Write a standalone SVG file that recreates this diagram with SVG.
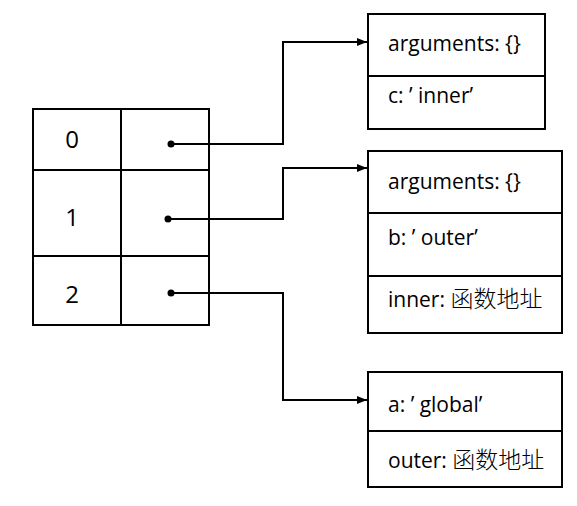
<svg xmlns="http://www.w3.org/2000/svg" width="577" height="506" viewBox="0 0 577 506">
<style>
.b{fill:#fff;stroke:#000;stroke-width:2}
.l{stroke:#000;stroke-width:2;fill:none}
.t{font-family:"Open Sans","Noto Sans CJK SC",sans-serif;font-size:21px;fill:#000}
.cjk{font-family:"Noto Sans CJK SC",sans-serif;font-size:23px;font-weight:300}
.n{font-family:"Open Sans",sans-serif;font-size:24px;fill:#000;text-anchor:middle}
.c{stroke:#000;stroke-width:2;fill:none}
</style>
<defs>
<marker id="ah" viewBox="0 0 10 10" refX="10" refY="5" markerWidth="10" markerHeight="10" markerUnits="userSpaceOnUse" orient="auto">
<path d="M0,1 L10,5 L0,9 z" fill="#000"/>
</marker>
</defs>
<rect width="577" height="506" fill="#fff"/>
<g id="stack">
<rect class="b" x="33" y="109" width="176" height="216"/>
<line class="l" x1="121" y1="109" x2="121" y2="325"/>
<line class="l" x1="33" y1="170" x2="209" y2="170"/>
<line class="l" x1="33" y1="256" x2="209" y2="256"/>
<text class="n" x="72" y="148">0</text>
<text class="n" x="72" y="226">1</text>
<text class="n" x="72" y="303">2</text>
</g>
<g id="scope-inner">
<rect class="b" x="368" y="14" width="177" height="115"/>
<line class="l" x1="368" y1="76" x2="545" y2="76"/>
<text class="t" x="388" y="51">arguments: {}</text>
<text class="t" x="388" y="103">c: ’ inner’</text>
</g>
<g id="scope-outer">
<rect class="b" x="368" y="151" width="194" height="182"/>
<line class="l" x1="368" y1="213" x2="562" y2="213"/>
<line class="l" x1="368" y1="276" x2="562" y2="276"/>
<text class="t" x="388" y="189">arguments: {}</text>
<text class="t" x="388" y="245">b: ’ outer’</text>
<text class="t" x="388" y="307">inner: <tspan class="cjk">函数地址</tspan></text>
</g>
<g id="scope-global">
<rect class="b" x="368" y="372" width="194" height="115"/>
<line class="l" x1="368" y1="431" x2="562" y2="431"/>
<text class="t" x="388" y="412">a: ’ global’</text>
<text class="t" x="388" y="468">outer: <tspan class="cjk">函数地址</tspan></text>
</g>
<g id="connectors">
<circle cx="171" cy="144" r="3.5"/>
<circle cx="168" cy="219" r="3.5"/>
<circle cx="171" cy="293" r="3.5"/>
<path class="c" d="M171,144 H283 V42 H367" marker-end="url(#ah)"/>
<path class="c" d="M168,219 H283 V168 H367" marker-end="url(#ah)"/>
<path class="c" d="M171,293 H283 V400 H367" marker-end="url(#ah)"/>
</g>
</svg>
